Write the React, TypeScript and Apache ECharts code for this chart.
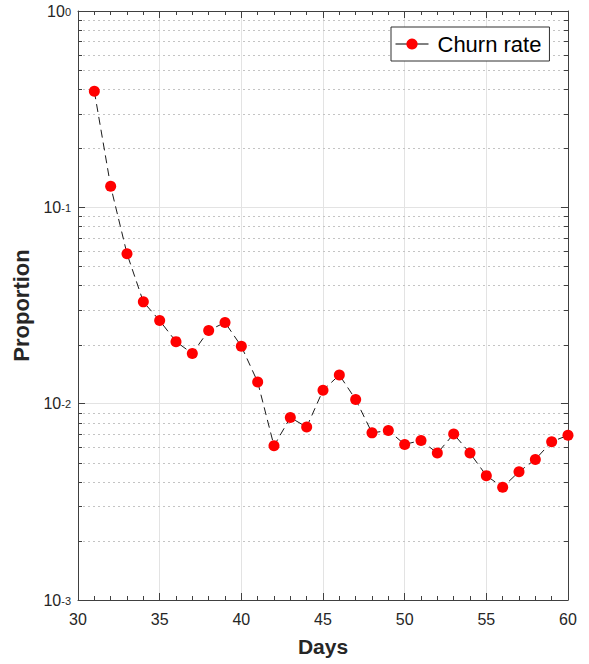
import React, { useEffect, useRef } from "react";
import * as echarts from "echarts";

// ---- data ----
const days: number[] = [
  31, 32, 33, 34, 35, 36, 37, 38, 39, 40,
  41, 42, 43, 44, 45, 46, 47, 48, 49, 50,
  51, 52, 53, 54, 55, 56, 57, 58, 59, 60,
];
const churnRate: number[] = [
  0.39, 0.128, 0.058, 0.033, 0.0265, 0.0207, 0.018, 0.0236, 0.0259, 0.0196,
  0.0129, 0.0061, 0.0085, 0.0076, 0.0117, 0.014, 0.0105, 0.0071, 0.0073, 0.0062,
  0.0065, 0.0056, 0.007, 0.0056, 0.0043, 0.00375, 0.0045, 0.0052, 0.0064, 0.0069,
];
const seriesName = "Churn rate";
const xTitle = "Days";
const yTitle = "Proportion";
const xMin = 30;
const xMax = 60;
const xStep = 5;
const yMin = 0.001;
const yMax = 1;
const decades: number[] = [0.001, 0.01, 0.1];
const mantissas: number[] = [2, 3, 4, 5, 6, 7, 8, 9];

const FONT = "'Liberation Sans', Arial, Helvetica, sans-serif";
const AXIS_COLOR = "#404040";
const LABEL_COLOR = "#262626";

export default function App() {
  const ref = useRef<HTMLDivElement>(null);

  useEffect(() => {
    document.body.style.margin = "0";
    if (!ref.current) return;
    const chart = echarts.init(ref.current, null, { renderer: "svg" });

    const minorTicks: number[] = [];
    decades.forEach((d) => mantissas.forEach((m) => minorTicks.push(+(m * d).toPrecision(3))));

    const option: any = {
      animation: false,
      backgroundColor: "#ffffff",
      textStyle: { fontFamily: FONT },
      grid: {
        left: 78,
        right: 21,
        top: 11,
        bottom: 64,
        containLabel: false,
        outerBoundsMode: "none",
      },
      legend: {
        data: [seriesName],
        left: 391,
        top: 27,
        orient: "horizontal",
        padding: [4, 8, 4, 4],
        borderColor: "#303030",
        borderWidth: 1,
        borderRadius: 0,
        backgroundColor: "#ffffff",
        itemWidth: 33,
        itemHeight: 14,
        lineStyle: { type: "solid", color: "#000000", width: 1 },
        textStyle: {
          fontFamily: FONT,
          fontSize: 22,
          color: "#000000",
          lineHeight: 26,
          padding: [0, 0, 0, 4],
        },
        selectedMode: false,
        z: 10,
      },
      xAxis: [
        {
          type: "value",
          min: xMin,
          max: xMax,
          interval: xStep,
          position: "bottom",
          name: xTitle,
          nameLocation: "middle",
          nameGap: 36,
          nameTextStyle: {
            fontFamily: FONT,
            fontSize: 21,
            fontWeight: "bold",
            color: LABEL_COLOR,
          },
          axisLine: { show: true, onZero: false, lineStyle: { color: AXIS_COLOR, width: 1 } },
          axisTick: { show: true, inside: true, length: 7, lineStyle: { color: AXIS_COLOR } },
          minorTick: { show: true, splitNumber: 5, length: 4, lineStyle: { color: AXIS_COLOR } },
          axisLabel: { fontFamily: FONT, fontSize: 16, color: LABEL_COLOR, margin: 11 },
          splitLine: { show: true, lineStyle: { color: "#e3e3e3", width: 1 } },
        },
        {
          type: "value",
          min: xMin,
          max: xMax,
          interval: xStep,
          position: "top",
          axisLine: { show: true, onZero: false, lineStyle: { color: AXIS_COLOR, width: 1 } },
          axisTick: { show: true, inside: true, length: 7, lineStyle: { color: AXIS_COLOR } },
          minorTick: { show: true, splitNumber: 5, length: 4, lineStyle: { color: AXIS_COLOR } },
          axisLabel: { show: false },
          splitLine: { show: false },
        },
      ],
      yAxis: [
        {
          type: "log",
          logBase: 10,
          min: yMin,
          max: yMax,
          position: "left",
          name: yTitle,
          nameLocation: "middle",
          nameGap: 44,
          nameTextStyle: {
            fontFamily: FONT,
            fontSize: 22,
            fontWeight: "bold",
            color: LABEL_COLOR,
          },
          axisLine: { show: true, onZero: false, lineStyle: { color: AXIS_COLOR, width: 1 } },
          axisTick: { show: true, inside: true, length: 7, lineStyle: { color: AXIS_COLOR } },
          axisLabel: {
            margin: 7,
            formatter: (v: number) => {
              const e = Math.round(Math.log10(v));
              return "{b|10}{s|" + e + "}";
            },
            rich: {
              b: {
                fontFamily: FONT,
                fontSize: 16,
                lineHeight: 16,
                color: LABEL_COLOR,
                padding: [6, 0, 0, 0],
                verticalAlign: "bottom",
              },
              s: {
                fontFamily: FONT,
                fontSize: 11,
                lineHeight: 11,
                color: LABEL_COLOR,
                padding: [3, 0, 0, 0],
                verticalAlign: "top",
              },
            },
          },
          splitLine: { show: true, lineStyle: { color: "#e3e3e3", width: 1 } },
        },
        {
          type: "log",
          logBase: 10,
          min: yMin,
          max: yMax,
          position: "right",
          axisLine: { show: true, onZero: false, lineStyle: { color: AXIS_COLOR, width: 1 } },
          axisTick: { show: true, inside: true, length: 7, lineStyle: { color: AXIS_COLOR } },
          axisLabel: { show: false },
          splitLine: { show: false },
        },
      ],
      series: [
        {
          type: "custom",
          name: "minor",
          xAxisIndex: 0,
          yAxisIndex: 0,
          silent: true,
          z: 1,
          data: minorTicks.map((v) => [xMin, v]),
          renderItem: (params: any, api: any) => {
            const v = api.value(1);
            const p0 = api.coord([xMin, v]);
            const p1 = api.coord([xMax, v]);
            const y = Math.round(p0[1]) + 0.5;
            return {
              type: "group",
              children: [
                {
                  type: "line",
                  shape: { x1: p0[0], y1: y, x2: p1[0], y2: y },
                  style: { stroke: "#c4c4c4", lineWidth: 1, lineDash: [2, 3] },
                },
                {
                  type: "line",
                  shape: { x1: p0[0], y1: y, x2: p0[0] + 4, y2: y },
                  style: { stroke: AXIS_COLOR, lineWidth: 1 },
                },
                {
                  type: "line",
                  shape: { x1: p1[0] - 4, y1: y, x2: p1[0], y2: y },
                  style: { stroke: AXIS_COLOR, lineWidth: 1 },
                },
              ],
            };
          },
        },
        {
          type: "line",
          name: seriesName,
          xAxisIndex: 0,
          yAxisIndex: 0,
          z: 5,
          data: days.map((d, i) => [d, churnRate[i]]),
          symbol: "circle",
          symbolSize: 11,
          showSymbol: true,
          itemStyle: { color: "#ff0000", borderWidth: 0 },
          lineStyle: { color: "#1a1a1a", width: 1, type: [8, 5] },
          emphasis: { disabled: true },
        },
      ],
    };

    chart.setOption(option);
    return () => {
      chart.dispose();
    };
  }, []);

  return (
    <div
      ref={ref}
      style={{ position: "absolute", left: 0, top: 0, width: 589, height: 664 }}
    />
  );
}
